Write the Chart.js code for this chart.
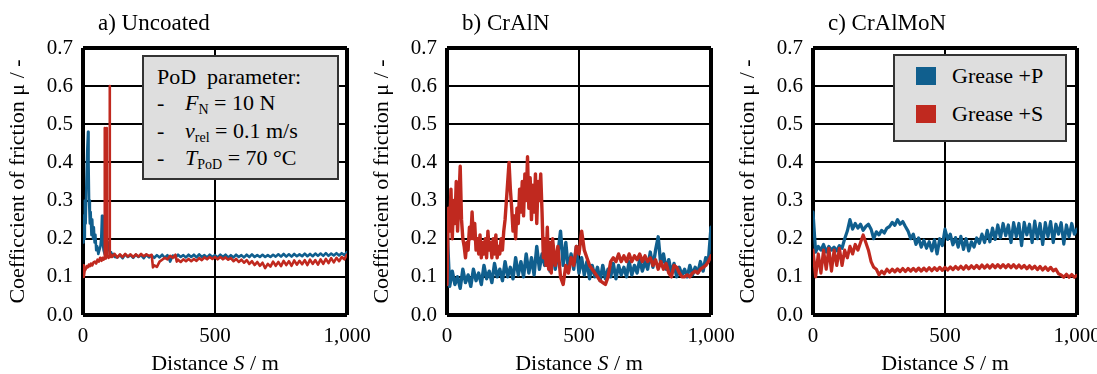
<!DOCTYPE html>
<html>
<head>
<meta charset="utf-8">
<script src="https://cdn.jsdelivr.net/npm/chart.js@4.4.1/dist/chart.umd.min.js"></script>
<style>
	body { margin: 0; width: 1097px; height: 374px; overflow: hidden; background: #fff; color: #000;
		font-family: "Liberation Serif", "DejaVu Serif", serif; }
	.panel { position: absolute; top: 0; width: 380px; height: 374px; }
	.panel canvas { position: absolute; left: 0; top: 0; }
	.title { position: absolute; left: 98px; top: 9px; font-size: 23px; line-height: 28px; white-space: nowrap; }
	.xtitle { position: absolute; left: 115px; width: 200px; top: 349px; text-align: center; font-size: 22px; line-height: 28px; white-space: nowrap; }
	.box { position: absolute; background: #dedede; border: 2px solid #333; box-sizing: border-box; font-size: 22px; }
	.box .ln { position: absolute; line-height: 26px; white-space: nowrap; }
	.box sub { font-size: 14px; vertical-align: -4px; line-height: 0; }
	.swatch { position: absolute; width: 20px; height: 18px; }
</style>
</head>
<body>

<div class="panel" style="left:0px"><canvas id="chartA" width="380" height="374"></canvas>
	<div class="title">a) Uncoated</div>
	<div class="xtitle">Distance <i>S</i> / m</div>
	<div class="box" style="left:142px; top:55px; width:197px; height:125px;">
		<div class="ln" style="left:13px; top:7px;">PoD&nbsp; parameter:</div>
		<div class="ln" style="left:13px; top:33px;">-</div>
		<div class="ln" style="left:41px; top:33px;"><i>F</i><sub>N</sub> = 10 N</div>
		<div class="ln" style="left:13px; top:61px;">-</div>
		<div class="ln" style="left:41px; top:61px;"><i>v</i><sub>rel</sub> = 0.1 m/s</div>
		<div class="ln" style="left:13px; top:88px;">-</div>
		<div class="ln" style="left:41px; top:88px;"><i>T</i><sub>PoD</sub> = 70 °C</div>
	</div>
</div>
<div class="panel" style="left:364px"><canvas id="chartB" width="380" height="374"></canvas>
	<div class="title">b) CrAlN</div>
	<div class="xtitle">Distance <i>S</i> / m</div>
</div>
<div class="panel" style="left:730px"><canvas id="chartC" width="380" height="374"></canvas>
	<div class="title">c) CrAlMoN</div>
	<div class="xtitle">Distance <i>S</i> / m</div>
	<div class="box" id="legendC" style="left:163px; top:54px; width:174px; height:88px;"></div>
</div>

<script>
const seriesNames = ['Grease +P', 'Grease +S'];
const seriesColors = ['#105f8e', '#c0291f'];

const xTicks = [0, 500, 1000];
const yTicks = [0, 0.1, 0.2, 0.3, 0.4, 0.5, 0.6, 0.7];

// a) Uncoated
const distA_P = [0, 2, 4, 7, 10, 13, 16, 19, 21, 23, 26, 29, 32, 35, 38, 41, 44, 47, 50, 54, 58, 62, 66, 69, 72, 75, 78, 82, 86, 90, 94, 98, 102, 106, 110, 115, 120,
	130, 140, 150, 160, 170, 180, 190, 200, 210, 220, 230, 240, 250, 260, 270, 280, 290, 300, 310, 320, 330, 340, 350, 360, 370, 380, 390, 400,
	410, 420, 430, 440, 450, 460, 470, 480, 490, 500, 510, 520, 530, 540, 550, 560, 570, 580, 590, 600, 610, 620, 630, 640, 650, 660, 670, 680,
	690, 700, 710, 720, 730, 740, 750, 760, 770, 780, 790, 800, 810, 820, 830, 840, 850, 860, 870, 880, 890, 900, 910, 920, 930, 940, 950, 960,
	970, 980, 990, 1000];
const cofA_P = [0.19, 0.26, 0.2, 0.3, 0.24, 0.35, 0.43, 0.48, 0.4, 0.3, 0.24, 0.27, 0.21, 0.25, 0.2, 0.23, 0.19, 0.21, 0.17, 0.18, 0.16, 0.17, 0.18, 0.2, 0.26, 0.19, 0.17, 0.16, 0.19, 0.2, 0.17, 0.19, 0.16, 0.165, 0.155, 0.16, 0.152,
	0.151, 0.157, 0.149, 0.159, 0.152, 0.157, 0.15, 0.158, 0.152, 0.157, 0.149, 0.158, 0.151, 0.156, 0.15, 0.157, 0.151, 0.158, 0.15, 0.157, 0.14, 0.156, 0.151, 0.158, 0.152, 0.157, 0.151, 0.158,
	0.152, 0.158, 0.151, 0.159, 0.152, 0.157, 0.151, 0.158, 0.152, 0.157, 0.151, 0.158, 0.152, 0.158, 0.151, 0.157, 0.151, 0.158, 0.152, 0.157, 0.151, 0.158, 0.152, 0.159, 0.152, 0.157, 0.152, 0.158,
	0.152, 0.157, 0.152, 0.158, 0.153, 0.159, 0.153, 0.16, 0.153, 0.159, 0.153, 0.16, 0.154, 0.159, 0.154, 0.161, 0.154, 0.16, 0.154, 0.161, 0.155, 0.161, 0.155, 0.162, 0.155, 0.161, 0.156, 0.162,
	0.156, 0.162, 0.157, 0.165];
const distA_S = [0, 3, 6, 10, 14, 18, 22, 26, 30, 35, 40, 45, 50, 55, 60, 65, 70, 74, 78, 81, 82, 83, 84, 86, 89, 90, 91, 94, 97, 100, 101, 102, 103, 107, 110,
	120, 130, 140, 150, 160, 170, 180, 190, 200, 210, 220, 230, 240, 250, 260, 265, 270, 280, 290, 300, 310, 320, 330, 340, 350, 355, 360, 370, 380, 390, 400,
	410, 420, 430, 440, 450, 460, 470, 480, 490, 500, 510, 520, 530, 540, 550, 560, 570, 580, 590, 600, 610, 620, 630, 640, 650, 660, 670, 680,
	690, 700, 710, 720, 730, 740, 750, 760, 770, 780, 790, 800, 810, 820, 830, 840, 850, 860, 870, 880, 890, 900, 910, 920, 930, 940, 950, 960,
	970, 980, 990, 1000];
const cofA_S = [0.13, 0.1, 0.115, 0.12, 0.128, 0.125, 0.132, 0.128, 0.135, 0.13, 0.138, 0.14, 0.135, 0.145, 0.14, 0.15, 0.142, 0.15, 0.145, 0.15, 0.15, 0.49, 0.15, 0.148, 0.152, 0.49, 0.152, 0.155, 0.15, 0.156, 0.6, 0.155, 0.152, 0.158, 0.152,
	0.16, 0.151, 0.159, 0.152, 0.16, 0.153, 0.159, 0.152, 0.159, 0.153, 0.16, 0.154, 0.159, 0.155, 0.158, 0.125, 0.13, 0.126, 0.14, 0.145, 0.15, 0.146, 0.155, 0.15, 0.158, 0.14, 0.145, 0.139, 0.146, 0.141, 0.147,
	0.141, 0.147, 0.142, 0.149, 0.144, 0.151, 0.146, 0.152, 0.147, 0.152, 0.146, 0.152, 0.146, 0.151, 0.145, 0.149, 0.141, 0.147, 0.139, 0.145, 0.137, 0.144, 0.134, 0.141, 0.131, 0.139, 0.129, 0.137,
	0.123, 0.134, 0.127, 0.14, 0.129, 0.139, 0.128, 0.142, 0.131, 0.141, 0.129, 0.143, 0.132, 0.142, 0.133, 0.144, 0.131, 0.145, 0.134, 0.144, 0.132, 0.146, 0.134, 0.147, 0.136, 0.149, 0.138, 0.15,
	0.141, 0.152, 0.146, 0.158];

// b) CrAlN
const distB_S = [0, 5, 10, 15, 20, 25, 30, 35, 40, 45, 50, 55, 60, 65, 70, 75, 80, 85, 90, 95, 100,
	105, 110, 115, 120, 125, 130, 135, 140, 145, 150, 155, 160, 165, 170, 175, 180, 185, 190, 195, 200,
	205, 210, 215, 220, 225, 230, 235, 240, 245, 250, 255, 260, 265, 270, 275, 280, 285, 290, 295, 300,
	305, 310, 315, 320, 325, 330, 335, 340, 345, 350, 355, 360, 365, 370, 375, 380, 385, 390, 395, 400,
	410, 420, 430, 440, 450, 460, 470, 480, 490, 500, 510, 520, 530, 540, 550, 560, 570, 580, 590, 600,
	610, 620, 630, 640, 650, 660, 670, 680, 690, 700, 710, 720, 730, 740, 750, 760, 770, 780, 790, 800,
	810, 820, 830, 840, 850, 860, 870, 880, 890, 900, 910, 920, 930, 940, 950, 960, 970, 980, 990, 1000];
const cofB_S = [0.08, 0.28, 0.22, 0.33, 0.2, 0.3, 0.24, 0.35, 0.22, 0.3, 0.39, 0.25, 0.2, 0.18, 0.15, 0.19, 0.17, 0.23, 0.2, 0.27, 0.2,
	0.24, 0.17, 0.2, 0.16, 0.21, 0.15, 0.19, 0.16, 0.2, 0.15, 0.22, 0.17, 0.19, 0.15, 0.2, 0.16, 0.21, 0.15, 0.18, 0.16,
	0.2, 0.17, 0.22, 0.25, 0.3, 0.35, 0.4, 0.33, 0.28, 0.22, 0.26, 0.2, 0.28, 0.24, 0.33, 0.27, 0.35, 0.26, 0.37, 0.3,
	0.415, 0.28, 0.36, 0.25, 0.34, 0.27, 0.37, 0.24, 0.35, 0.3, 0.37, 0.27, 0.15, 0.2, 0.13, 0.23, 0.12, 0.19, 0.11, 0.2,
	0.13, 0.18, 0.1, 0.08, 0.13, 0.11, 0.15, 0.13, 0.18, 0.16, 0.22, 0.17, 0.15, 0.13, 0.12, 0.11, 0.1, 0.09, 0.085, 0.08,
	0.1, 0.14, 0.15, 0.14, 0.16, 0.14, 0.155, 0.14, 0.16, 0.14, 0.155, 0.145, 0.16, 0.14, 0.155, 0.14, 0.15, 0.13, 0.145, 0.12,
	0.14, 0.12, 0.135, 0.11, 0.1, 0.13, 0.125, 0.11, 0.1, 0.1, 0.105, 0.1, 0.11, 0.115, 0.11, 0.12, 0.125, 0.13, 0.14, 0.155];

// b) and c) Grease +P, c) Grease +S share one distance grid
const distance = [0, 10, 20, 30, 40, 50, 60, 70, 80, 90, 100, 110, 120, 130, 140, 150, 160, 170, 180, 190, 200,
	210, 220, 230, 240, 250, 260, 270, 280, 290, 300, 310, 320, 330, 340, 350, 360, 370, 380, 390, 400,
	410, 420, 430, 440, 450, 460, 470, 480, 490, 500, 510, 520, 530, 540, 550, 560, 570, 580, 590, 600,
	610, 620, 630, 640, 650, 660, 670, 680, 690, 700, 710, 720, 730, 740, 750, 760, 770, 780, 790, 800,
	810, 820, 830, 840, 850, 860, 870, 880, 890, 900, 910, 920, 930, 940, 950, 960, 970, 980, 990, 1000];

const cofB_P = [0.23, 0.075, 0.115, 0.08, 0.1, 0.07, 0.12, 0.085, 0.105, 0.075, 0.12, 0.09, 0.11, 0.08, 0.13, 0.095, 0.115, 0.085, 0.135, 0.1, 0.12,
	0.09, 0.14, 0.1, 0.125, 0.095, 0.15, 0.105, 0.14, 0.1, 0.16, 0.11, 0.15, 0.105, 0.18, 0.12, 0.16, 0.13, 0.19, 0.115, 0.17,
	0.12, 0.16, 0.22, 0.13, 0.19, 0.115, 0.16, 0.12, 0.18, 0.11, 0.15, 0.105, 0.14, 0.095, 0.13, 0.1, 0.125, 0.09, 0.13, 0.095,
	0.12, 0.1, 0.135, 0.095, 0.13, 0.105, 0.125, 0.1, 0.14, 0.105, 0.13, 0.11, 0.145, 0.115, 0.14, 0.12, 0.165, 0.125, 0.17, 0.205,
	0.13, 0.16, 0.12, 0.145, 0.11, 0.135, 0.1, 0.125, 0.105, 0.12, 0.1, 0.13, 0.105, 0.125, 0.11, 0.14, 0.115, 0.15, 0.14, 0.23];

// c) CrAlMoN
const cofC_P = [0.27, 0.165, 0.18, 0.17, 0.185, 0.165, 0.18, 0.17, 0.178, 0.168, 0.182, 0.175, 0.2, 0.22, 0.25, 0.225, 0.24, 0.228, 0.238, 0.222, 0.232,
	0.238, 0.225, 0.2, 0.218, 0.21, 0.222, 0.215, 0.228, 0.232, 0.243, 0.235, 0.25, 0.238, 0.245, 0.232, 0.22, 0.2, 0.212, 0.185, 0.202,
	0.178, 0.196, 0.175, 0.192, 0.168, 0.197, 0.16, 0.2, 0.182, 0.225, 0.198, 0.212, 0.184, 0.203, 0.178, 0.206, 0.172, 0.2, 0.168, 0.192,
	0.178, 0.202, 0.188, 0.212, 0.19, 0.222, 0.192, 0.228, 0.198, 0.236, 0.202, 0.24, 0.208, 0.236, 0.19, 0.242, 0.205, 0.24, 0.182, 0.243,
	0.21, 0.238, 0.19, 0.246, 0.2, 0.24, 0.185, 0.242, 0.205, 0.245, 0.19, 0.238, 0.212, 0.242, 0.186, 0.236, 0.205, 0.24, 0.212, 0.225];
const cofC_S = [0.17, 0.1, 0.16, 0.11, 0.17, 0.12, 0.175, 0.115, 0.17, 0.13, 0.175, 0.13, 0.17, 0.15, 0.18, 0.16, 0.185, 0.17, 0.19, 0.21, 0.19,
	0.17, 0.14, 0.125, 0.12, 0.105, 0.115, 0.108, 0.12, 0.112, 0.12, 0.113, 0.121, 0.114, 0.122, 0.114, 0.122, 0.115, 0.122, 0.115, 0.123,
	0.115, 0.123, 0.116, 0.124, 0.116, 0.124, 0.117, 0.125, 0.117, 0.125, 0.118, 0.126, 0.119, 0.127, 0.12, 0.128, 0.12, 0.129, 0.121, 0.129,
	0.122, 0.13, 0.122, 0.131, 0.123, 0.131, 0.123, 0.132, 0.124, 0.132, 0.124, 0.132, 0.124, 0.132, 0.124, 0.132, 0.123, 0.131, 0.123, 0.13,
	0.121, 0.129, 0.121, 0.128, 0.119, 0.127, 0.118, 0.126, 0.117, 0.125, 0.116, 0.12, 0.108, 0.105, 0.099, 0.107, 0.099, 0.106, 0.099, 0.104];

const serif = '"Liberation Serif", "DejaVu Serif", serif';

function toPoints(xs, ys) {
	return ys.map((y, i) => ({ x: xs[i], y: y }));
}

function edgeWidth(ticks) {
	return (ctx) => {
		const v = ctx.tick ? ctx.tick.value : null;
		return (v === ticks[0] || Math.abs(v - ticks[ticks.length - 1]) < 1e-9) ? 4 : 2;
	};
}

function chartInit(canvas, xP, yP, xS, yS, lineWidth) {
	const ctx = document.getElementById(canvas);
	if (!ctx) {
		return;
	}
	const lineStyle = {
		borderWidth: lineWidth,
		borderJoinStyle: 'round',
		borderCapStyle: 'round',
		pointRadius: 0,
		tension: 0
	};
	return new Chart(ctx, {
		type: 'line',
		data: {
			datasets: [Object.assign({
				label: seriesNames[0],
				data: toPoints(xP, yP),
				borderColor: seriesColors[0],
				order: 2
			}, lineStyle), Object.assign({
				label: seriesNames[1],
				data: toPoints(xS, yS),
				borderColor: seriesColors[1],
				order: 1
			}, lineStyle)]
		},
		options: {
			responsive: false,
			animation: false,
			layout: { padding: { top: 48, right: 33, bottom: 0, left: 0 } },
			plugins: {
				legend: { display: false },
				tooltip: { enabled: false }
			},
			scales: {
				x: {
					type: 'linear',
					min: xTicks[0],
					max: xTicks[xTicks.length - 1],
					afterBuildTicks: (s) => { s.ticks = xTicks.map(v => ({ value: v })); },
					afterFit: (s) => { s.height = 59; },
					border: { display: false },
					grid: { color: '#000', lineWidth: edgeWidth(xTicks), drawTicks: false },
					ticks: { color: '#000', padding: 9, font: { family: serif, size: 21 } }
				},
				y: {
					min: yTicks[0],
					max: yTicks[yTicks.length - 1],
					afterBuildTicks: (s) => { s.ticks = yTicks.map(v => ({ value: v })); },
					afterFit: (s) => { s.width = 83; },
					border: { display: false },
					grid: { color: '#000', lineWidth: edgeWidth(yTicks), drawTicks: false },
					ticks: {
						color: '#000',
						padding: 10,
						font: { family: serif, size: 21 },
						callback: (value) => Number(value).toFixed(1)
					},
					title: {
						display: true,
						text: 'Coefficcient of friction μ / -',
						color: '#000',
						padding: { top: 5, bottom: 0 },
						font: { family: serif, size: 22 }
					}
				}
			}
		}
	});
}

chartInit('chartA', distA_P, cofA_P, distA_S, cofA_S, 2.6);
chartInit('chartB', distance, cofB_P, distB_S, cofB_S, 3.4);
chartInit('chartC', distance, cofC_P, distance, cofC_S, 3.2);

// legend box of panel c
const legendC = document.getElementById('legendC');
seriesNames.forEach((name, i) => {
	const sw = document.createElement('div');
	sw.className = 'swatch';
	sw.style.left = '21px';
	sw.style.top = (11 + i * 38) + 'px';
	sw.style.background = seriesColors[i];
	legendC.appendChild(sw);
	const t = document.createElement('div');
	t.className = 'ln';
	t.style.left = '57px';
	t.style.top = (7 + i * 38) + 'px';
	t.textContent = name;
	legendC.appendChild(t);
});
</script>
</body>
</html>
